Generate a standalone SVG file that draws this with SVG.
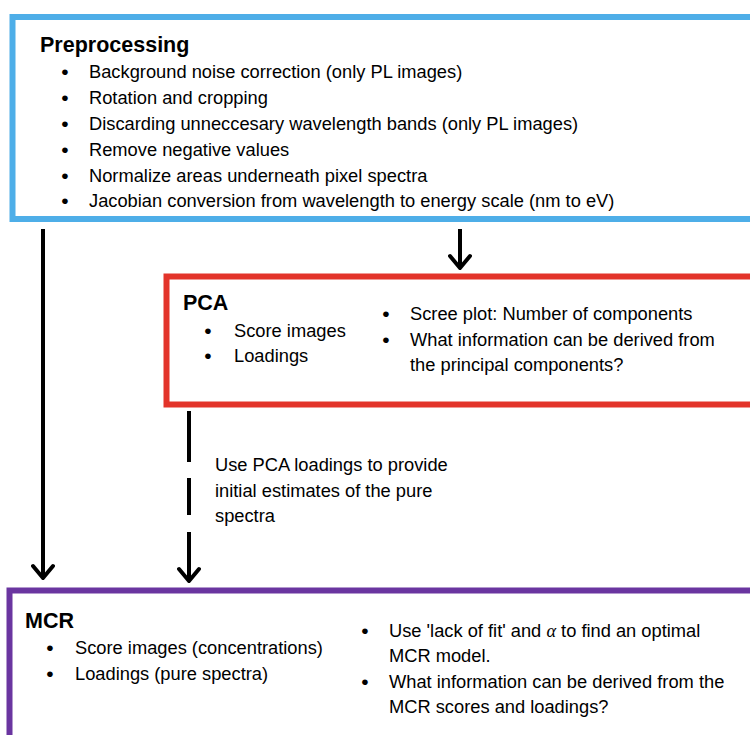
<svg xmlns="http://www.w3.org/2000/svg" width="750" height="735" viewBox="0 0 750 735">
<style>
text{font-family:"Liberation Sans","DejaVu Sans",sans-serif;fill:#000;font-size:18.3px}
.t{font-weight:bold;font-size:21.5px}
.b{text-anchor:middle;font-size:21px}
.box{fill:#fff;stroke-width:6}
.c{stroke:#000;stroke-width:4;fill:none}
</style>
<defs>
<marker id="ah" markerUnits="userSpaceOnUse" viewBox="0 0 24 24" refX="20" refY="12" markerWidth="24" markerHeight="24" orient="auto">
<polyline points="8,2 20,12 8,22" fill="none" stroke="#000" stroke-width="4" stroke-linecap="round" stroke-linejoin="round"/>
</marker>
</defs>
<rect width="750" height="735" fill="#fff"/>
<g id="preprocessing">
<rect class="box" x="12.5" y="17" width="760" height="202" stroke="#4EAEE8"/>
<text class="t" x="40" y="52">Preprocessing</text>
<text class="b" x="65" y="79">•</text><text x="89" y="78">Background noise correction (only PL images)</text>
<text class="b" x="65" y="105">•</text><text x="89" y="104">Rotation and cropping</text>
<text class="b" x="65" y="131">•</text><text x="89" y="130">Discarding unneccesary wavelength bands (only PL images)</text>
<text class="b" x="65" y="157">•</text><text x="89" y="156">Remove negative values</text>
<text class="b" x="65" y="183">•</text><text x="89" y="182">Normalize areas underneath pixel spectra</text>
<text class="b" x="65" y="208">•</text><text x="89" y="207">Jacobian conversion from wavelength to energy scale (nm to eV)</text>
</g>
<g id="pca">
<rect class="box" x="166.5" y="276.5" width="600" height="128" stroke="#E3342A"/>
<text class="t" x="183" y="310">PCA</text>
<text class="b" x="208" y="338">•</text><text x="234" y="337">Score images</text>
<text class="b" x="208" y="363">•</text><text x="234" y="362">Loadings</text>
<text class="b" x="386" y="321">•</text><text x="410" y="320">Scree plot: Number of components</text>
<text class="b" x="386" y="347">•</text><text x="410" y="346">What information can be derived from</text>
<text x="410" y="371">the principal components?</text>
</g>
<g id="mcr">
<rect class="box" x="9.5" y="590.5" width="760" height="160" stroke="#6A35A0"/>
<text class="t" x="25" y="628">MCR</text>
<text class="b" x="50" y="655">•</text><text x="75" y="654">Score images (concentrations)</text>
<text class="b" x="50" y="681">•</text><text x="75" y="680">Loadings (pure spectra)</text>
<text class="b" x="365" y="638">•</text><text x="389" y="637">Use 'lack of fit' and <tspan font-style="italic" font-family="Liberation Serif, serif">α</tspan> to find an optimal</text>
<text x="389" y="662">MCR model.</text>
<text class="b" x="365" y="689">•</text><text x="389" y="688">What information can be derived from the</text>
<text x="389" y="713">MCR scores and loadings?</text>
</g>
<g id="connectors">
<line class="c" x1="43" y1="229" x2="43" y2="578" marker-end="url(#ah)"/>
<line class="c" x1="460" y1="229" x2="460" y2="268" marker-end="url(#ah)"/>
<path class="c" d="M189,411 V462 M189,478 V515 M189,532 V581" marker-end="url(#ah)"/>
<text x="215" y="471">Use PCA loadings to provide</text>
<text x="215" y="497">initial estimates of the pure</text>
<text x="215" y="522">spectra</text>
</g>
</svg>
